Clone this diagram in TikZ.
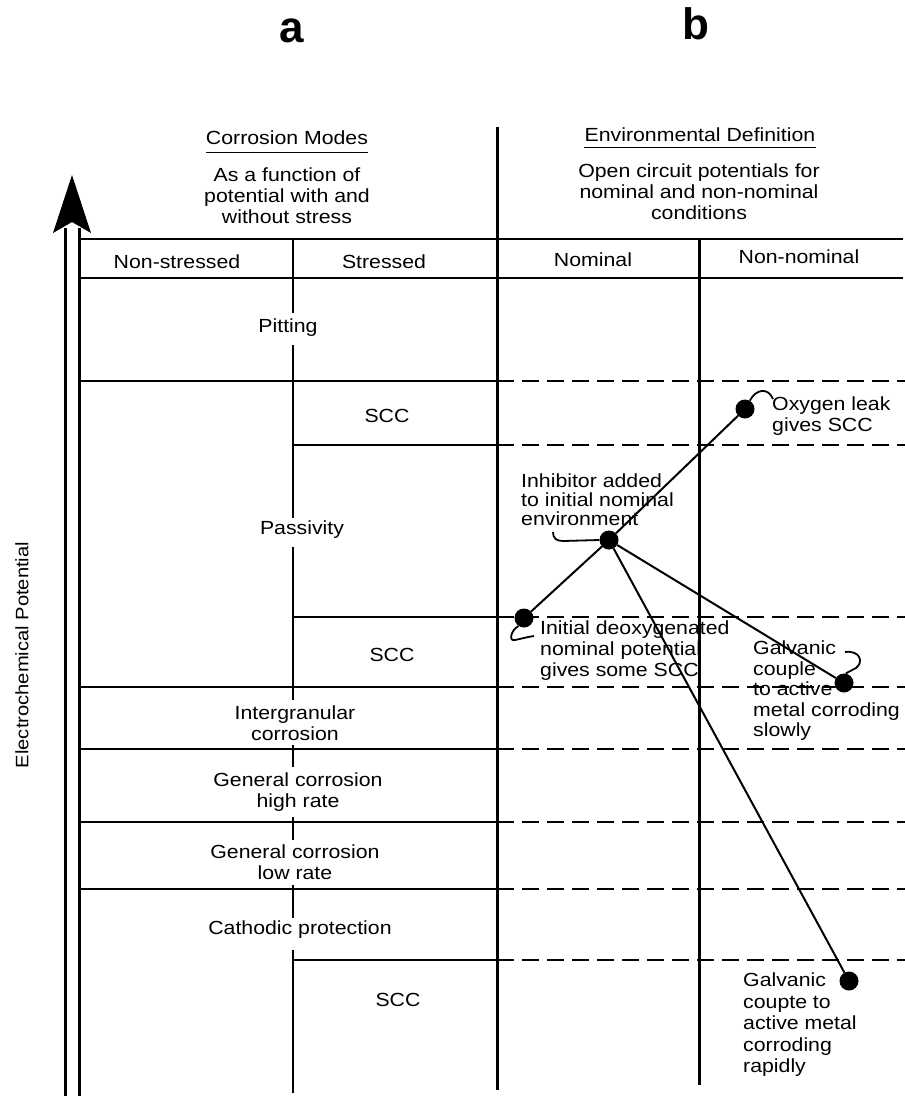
\documentclass[tikz,border=0pt]{standalone}
\usepackage{fontspec}
\setmainfont{Liberation Sans}[FakeStretch=1.12]
\newfontfamily\labfont{Liberation Sans}
\begin{document}
\begin{tikzpicture}[x=1pt,y=-1pt,
  txt/.style={font=\fontsize{19}{21}\selectfont, inner sep=0pt, align=center},
  call/.style={txt, align=left, anchor=west},
  bigl/.style={font=\labfont\bfseries\fontsize{44}{44}\selectfont, inner sep=0pt},
  dot/.style={circle, fill=black, draw=none, inner sep=0pt, minimum size=19pt},
  vbar/.style={line width=3pt},
  sepbar/.style={line width=2.5pt},
  hsolid/.style={line width=1.4pt},
  hdash/.style={line width=2pt, dash pattern=on 17pt off 8pt},
  conn/.style={line width=2pt},
  leader/.style={line width=1.8pt}]
\useasboundingbox (0,0) rectangle (905,1096);

% panel letters
\node[bigl] (la) at (292,31) {a};
\node[bigl] (lb) at (696,24) {b};

% potential arrow (double shaft)
\fill (72,175) -- (91,233) -- (72,222) -- (53,233) -- cycle;
\draw[vbar] (65,228) -- (65,1096);
\draw[vbar] (79,228) -- (79,1096);
\node[txt, font=\fontsize{18}{18}\selectfont, rotate=90] (ep) at (22,655) {Electrochemical Potential};

% main vertical dividers
\draw[vbar] (497,127) -- (497,1090);
\draw[vbar] (699,239) -- (699,1085);

% non-stressed / stressed separator (interrupted by labels)
\draw[sepbar] (293,239) -- (293,313);
\draw[sepbar] (293,345) -- (293,518);
\draw[sepbar] (293,547) -- (293,700);
\draw[sepbar] (293,745) -- (293,767);
\draw[sepbar] (293,817) -- (293,840);
\draw[sepbar] (293,885) -- (293,918);
\draw[sepbar] (293,950) -- (293,1093);

% header lines
\draw[hsolid] (79,239) -- (903,239);
\draw[hsolid] (79,278) -- (903,278);

% horizontal boundaries
\draw[hsolid] (79,381) -- (497,381);  \draw[hdash] (497,381) -- (905,381);
\draw[hsolid] (293,445) -- (497,445); \draw[hdash] (497,445) -- (905,445);
\draw[hsolid] (293,617) -- (497,617); \draw[hdash] (497,617) -- (905,617);
\draw[hsolid] (79,687) -- (497,687);  \draw[hdash] (497,687) -- (905,687);
\draw[hsolid] (79,749) -- (497,749);  \draw[hdash] (497,749) -- (905,749);
\draw[hsolid] (79,822) -- (497,822);  \draw[hdash] (497,822) -- (905,822);
\draw[hsolid] (79,889) -- (497,889);  \draw[hdash] (497,889) -- (905,889);
\draw[hsolid] (293,960) -- (497,960); \draw[hdash] (497,960) -- (905,960);

% headings
\node[txt] (cm) at (287,138) {Corrosion Modes};
\draw[line width=1pt] ([yshift=-7pt]cm.south west) -- ([yshift=-7pt]cm.south east);
\node[txt] (cmsub) at (287,196) {As a function of\\potential with and\\without stress};
\node[txt] (ed) at (700,135) {Environmental Definition};
\draw[line width=1pt] ([yshift=-5pt]ed.south west) -- ([yshift=-5pt]ed.south east);
\node[txt] (edsub) at (699,192) {Open circuit potentials for\\nominal and non-nominal\\conditions};

\node[txt] (hns) at (177,262) {Non-stressed};
\node[txt] (hs) at (384,262) {Stressed};
\node[txt] (hn) at (593,260) {Nominal};
\node[txt] (hnn) at (799,257) {Non-nominal};

% corrosion modes
\node[txt] (m1) at (288,328) {Pitting};
\node[txt] (m2) at (387,416) {SCC};
\node[txt] (m3) at (302,530) {Passivity};
\node[txt] (m4) at (392,655) {SCC};
\node[txt] (m5) at (295,723) {Intergranular\\corrosion};
\node[txt] (m6) at (298,792) {General corrosion\\high rate};
\node[txt] (m7) at (295,862) {General corrosion\\low rate};
\node[txt] (m8) at (300,930) {Cathodic protection};
\node[txt] (m9) at (398,1000) {SCC};

% environment points
\node[dot] (ox) at (745,409) {};
\node[dot] (inh) at (609,540) {};
\node[dot] (ini) at (524,618) {};
\node[dot] (gs) at (844,683) {};
\node[dot] (gr) at (849,981) {};

\draw[conn] (inh) -- (ox);
\draw[conn] (inh) -- (ini);
\draw[conn] (inh) -- (gs);
\draw[conn] (inh) -- (gr);

% callout texts
\node[call] (oxt) at (772,416) {Oxygen leak\\gives SCC};
\node[call, font=\fontsize{19}{19}\selectfont] (inht) at (521,500) {Inhibitor added\\to initial nominal\\environment};
\node[call] (init) at (540,651) {Initial deoxygenated\\nominal potential\\gives some SCC};
\node[call, font=\fontsize{19}{20.5}\selectfont] (gst) at (753,691) {Galvanic\\couple\\to active\\metal corroding\\slowly};
\node[call, font=\fontsize{19}{21.5}\selectfont] (grt) at (743,1025) {Galvanic\\coupte to\\active metal\\corroding\\rapidly};

% leaders
\coordinate (oxe) at (773,399);
\draw[leader] (ox.60) .. controls (756,389) and (768,387) .. (oxe);
\coordinate (inhe) at (553,532);
\draw[leader] (inh.west) -- (563,541) .. controls (556,541) and (553,538) .. (inhe);
\coordinate (inie) at (534,636);
\draw[leader] (ini.235) .. controls (510,631) and (509,642) .. (515,640) .. controls (520,639) and (527,637) .. (inie);
\coordinate (gsb) at (845,652);
\draw[leader] (gsb) .. controls (860,650) and (864,662) .. (856,668) .. controls (851,671) .. (gs.80);
\end{tikzpicture}
\end{document}
